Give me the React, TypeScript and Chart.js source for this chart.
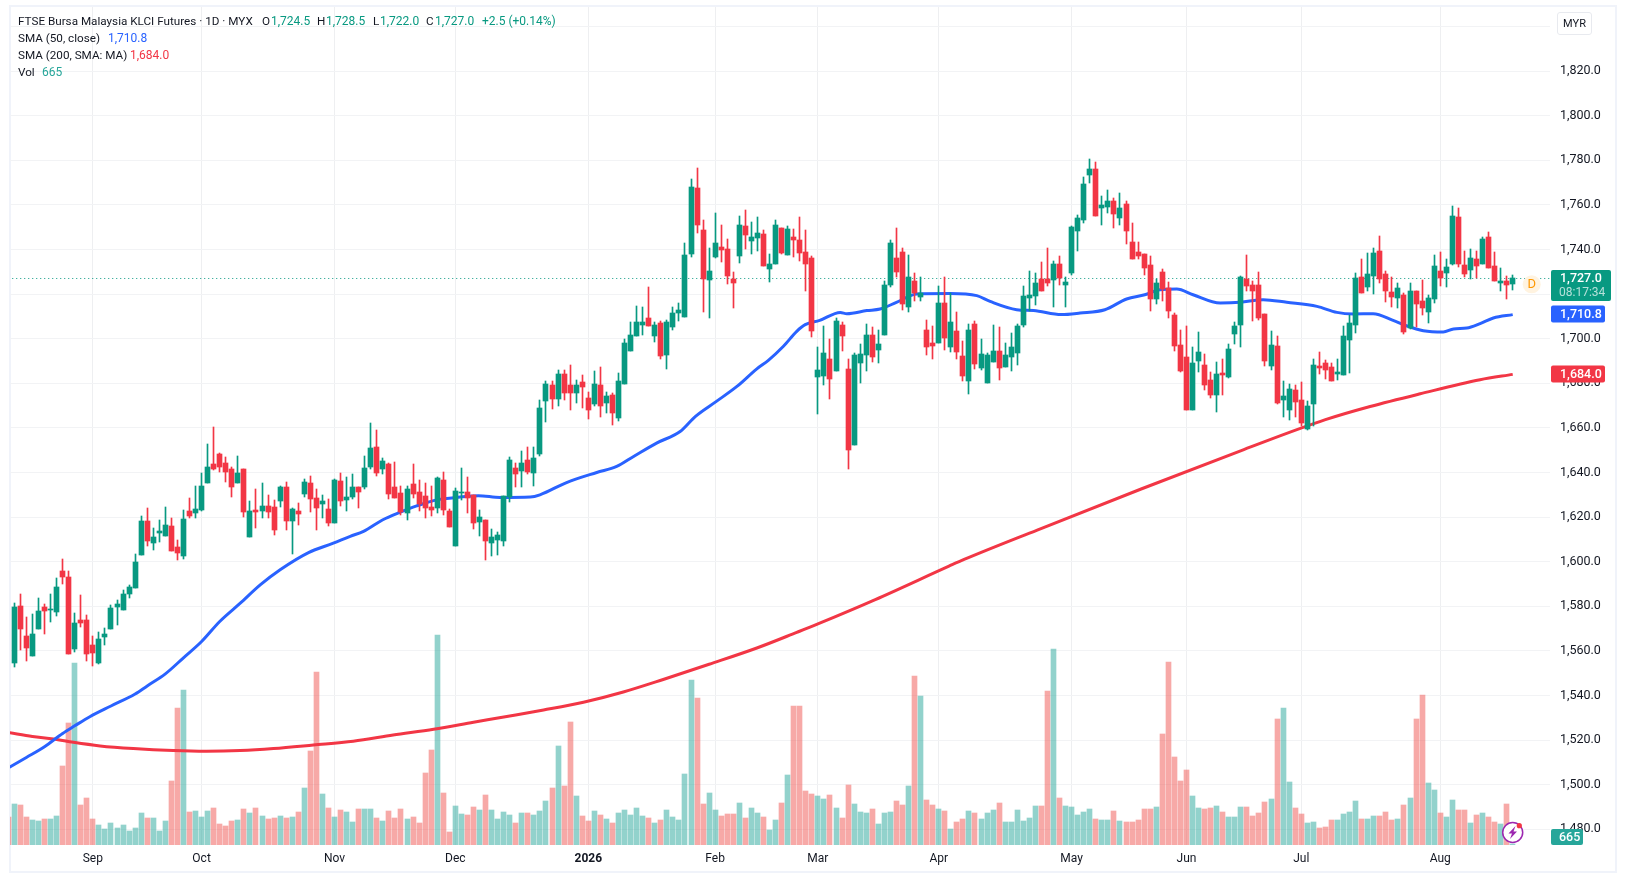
import React, { useEffect, useRef } from 'react';
import Chart from 'chart.js/auto';

// first slot is the bar cut off by the left edge: only its volume shows
const opens = [null,
  1554.7, 1580.3, 1566.8, 1557.8, 1570, 1579.8, 1578.5, 1577.6, 1596, 1593.3,
  1561, 1574, 1574, 1562.8, 1554.7, 1566.3, 1570, 1579.8, 1578.5, 1585.6,
  1588.3, 1603.2, 1618.4, 1608.5, 1613, 1611.7, 1616.2, 1606.7, 1602.7, 1622.9,
  1622, 1623.3, 1635.5, 1644, 1648.5, 1644.4, 1641.7, 1635.5, 1641.7, 1611.2,
  1623.3, 1622.9, 1625.1, 1624.7, 1627.4, 1633.7, 1618.4, 1622.9, 1630.5, 1635.5,
  1628.7, 1626, 1623.8, 1617.5, 1636.4, 1627.8, 1629, 1633.5, 1633.5, 1642.5,
  1651.4, 1641.6, 1643.8, 1633.5, 1630.8, 1621.8, 1634.8, 1631.2, 1629.4, 1624.5,
  1624, 1636.6, 1622.7, 1607, 1630.8, 1631.2, 1629.9, 1617.8, 1618.7, 1608.3,
  1609.7, 1609.2, 1628.8, 1642, 1640.7, 1645.6, 1639.8, 1648.3, 1672.1, 1679.3,
  1673, 1684.2, 1679.3, 1675.7, 1680.6, 1673.4, 1670.7, 1679.3, 1671.2, 1674.8,
  1664.4, 1679.7, 1694.6, 1701, 1706.1, 1709.2, 1701.2, 1707, 1692.6, 1705.2,
  1711.5, 1709.7, 1738, 1767.6, 1748.7, 1726.3, 1736.6, 1741.1, 1740.2, 1726.7,
  1737.1, 1750.5, 1743.8, 1745.1, 1746.9, 1731.2, 1733.5, 1749.6, 1737.5, 1745.6,
  1744.2, 1738.9, 1736.2, 1682.8, 1683.2, 1690.8, 1685.5, 1706.1, 1686.3, 1652.2,
  1689, 1692.6, 1701.6, 1694.9, 1701.6, 1724, 1736.2, 1738.9, 1714.2, 1725.8,
  1718.7, 1703.9, 1698, 1698, 1716, 1696.2, 1703.4, 1692.2, 1681, 1706.5,
  1686.8, 1680.1, 1689.7, 1694.6, 1687.4, 1691.9, 1693.7, 1706.2, 1718.3, 1719.2,
  1726.9, 1726.9, 1726.4, 1733.6, 1724.2, 1729.5, 1748.3, 1753.3, 1773.4, 1776.1,
  1758.6, 1759.1, 1761.8, 1754.2, 1760.4, 1743.4, 1739, 1738, 1733.1, 1717.9,
  1730, 1722.8, 1710.7, 1697.3, 1691.9, 1668.2, 1690.1, 1688.3, 1681.6, 1674.9,
  1684.7, 1683, 1702.2, 1706.2, 1726.9, 1724.2, 1724.2, 1711.2, 1687.8, 1696.8,
  1672.5, 1668, 1677, 1672.5, 1659.5, 1670.7, 1687.8, 1689.1, 1687.3, 1684.2,
  1683.8, 1699.5, 1706.2, 1727.8, 1723.3, 1728.2, 1739.5, 1729.1, 1721, 1718.4,
  1719.7, 1704.9, 1721.5, 1717, 1712.1, 1717.9, 1730.5, 1729.6, 1733.6, 1754.8,
  1733.2, 1730.9, 1735.9, 1733.7, 1745.4, 1732.8, 1724.8, 1725.7, 1724.5,
];
const highs = [null,
  1581.5, 1585.6, 1575.3, 1576.7, 1583.9, 1581.2, 1585.6, 1592.8, 1601.4, 1596,
  1577.1, 1585.2, 1576.2, 1566.8, 1568.6, 1570.4, 1580.7, 1583, 1587.4, 1589.7,
  1603.6, 1620.7, 1624.2, 1615.3, 1618.9, 1624.7, 1619.8, 1609.9, 1623.3, 1628.7,
  1634.1, 1640, 1653, 1660.6, 1648.9, 1647.1, 1642.6, 1647.6, 1641.7, 1627.4,
  1632.8, 1635.5, 1630.1, 1627.8, 1634.1, 1635.9, 1624.2, 1626.5, 1637.3, 1638.6,
  1632.8, 1630.1, 1628.3, 1637.3, 1640, 1638.2, 1639.3, 1633.5, 1647.4, 1662.2,
  1659, 1646.5, 1644.2, 1644.7, 1633.9, 1633.9, 1643.8, 1636.6, 1635.3, 1633.9,
  1638, 1640.2, 1623.6, 1633, 1642, 1638, 1629.9, 1623.2, 1618.7, 1614.6,
  1613.3, 1629.4, 1646.9, 1644.2, 1649.6, 1651.4, 1651.4, 1672.5, 1681, 1681,
  1686, 1686, 1688.2, 1681.5, 1683.7, 1676.1, 1685.5, 1687.3, 1676.1, 1675.7,
  1684.6, 1699.7, 1707.7, 1714.8, 1714.2, 1723.2, 1707.4, 1707.9, 1708.3, 1714.2,
  1716, 1742.9, 1771.6, 1776.6, 1753.2, 1740.7, 1756.4, 1751, 1744.7, 1729.9,
  1755, 1757.7, 1752.3, 1754.6, 1748.7, 1738, 1753.2, 1749.6, 1750.5, 1749.1,
  1754.6, 1748.7, 1737.1, 1696.2, 1705.6, 1699.8, 1709.2, 1707.4, 1690.8, 1693.5,
  1697.6, 1706.5, 1705.2, 1703.9, 1725.8, 1744.2, 1749.6, 1740.7, 1737.5, 1729.4,
  1727.6, 1708.3, 1705.6, 1723.6, 1727.6, 1720.5, 1711.9, 1698.9, 1706.5, 1707.9,
  1699.8, 1693.5, 1706.2, 1705.3, 1698.2, 1702.7, 1706.7, 1723.7, 1730.4, 1729.5,
  1734.5, 1740.7, 1734.9, 1737.1, 1727.7, 1750.6, 1755.5, 1772.5, 1780.6, 1779.3,
  1764, 1766.7, 1763.1, 1765.4, 1761.8, 1751.9, 1743.4, 1738, 1737.1, 1726.9,
  1731.3, 1725.5, 1711.6, 1704, 1705.8, 1696.4, 1703.1, 1693.3, 1685.2, 1689.7,
  1691, 1697.7, 1707.6, 1728.2, 1737.6, 1726, 1730, 1711.2, 1703.5, 1701.3,
  1681, 1679.7, 1679.3, 1680.5, 1672, 1691, 1694.1, 1690.5, 1689.1, 1691,
  1705.8, 1710.7, 1729.6, 1735.9, 1738.6, 1740.8, 1746.2, 1730.5, 1727.8, 1725.1,
  1720.6, 1725.1, 1721.5, 1726.4, 1719.7, 1737.7, 1739, 1735.9, 1759.3, 1758.8,
  1739.5, 1740.4, 1739.5, 1745.8, 1748, 1739.1, 1731.9, 1728.3, 1728.5,
];
const lows = [null,
  1552.6, 1560.5, 1555.3, 1557.8, 1570, 1567.7, 1573, 1575.8, 1590.1, 1558.7,
  1559.6, 1570.8, 1555.6, 1553.3, 1554.2, 1562.8, 1570, 1571.7, 1578.5, 1583.9,
  1588.3, 1603.2, 1607.2, 1605.4, 1609, 1611.7, 1604.9, 1600.9, 1601.4, 1619.8,
  1619.8, 1622.9, 1635.5, 1641.3, 1640.4, 1635.9, 1629.2, 1635.5, 1620.2, 1611.2,
  1615.3, 1619.8, 1619.8, 1612.1, 1624.7, 1614.4, 1603.6, 1616.6, 1629.2, 1622.4,
  1614.4, 1619.8, 1616.2, 1617.5, 1625.1, 1622.9, 1628.1, 1624, 1632.6, 1641.6,
  1638.4, 1639.3, 1628.1, 1628.5, 1620.9, 1618.7, 1628.5, 1622.7, 1619.6, 1620.5,
  1621.8, 1620.9, 1615.5, 1607, 1627.6, 1621.8, 1614.6, 1611.5, 1600.7, 1602.5,
  1603, 1607, 1626.7, 1633.5, 1633.5, 1639.3, 1633.9, 1647.4, 1662.6, 1668.5,
  1669.8, 1672.5, 1668, 1671.2, 1668.9, 1664, 1669.8, 1664.9, 1666.7, 1661.3,
  1663.1, 1679.7, 1694.6, 1701, 1701.6, 1705.6, 1698.5, 1690.8, 1686.3, 1703.9,
  1707.9, 1709.7, 1736.6, 1747.4, 1711.9, 1709.2, 1736.2, 1734.4, 1724.5, 1713.7,
  1733.9, 1740.2, 1738, 1739.3, 1732.6, 1725.4, 1733.5, 1738, 1737.5, 1736.6,
  1734.8, 1721.4, 1700.7, 1666.2, 1679.2, 1672.9, 1685.5, 1694.4, 1641.5, 1652.2,
  1680.1, 1685.5, 1689.5, 1689, 1701.6, 1723.2, 1727.6, 1712.8, 1711.9, 1716.9,
  1716.9, 1692.6, 1690.8, 1698, 1694.9, 1694, 1690.8, 1681, 1675.1, 1686.3,
  1685.9, 1680.1, 1689.7, 1681.6, 1687.4, 1685.6, 1688.3, 1705.4, 1712.5, 1715.2,
  1721.5, 1723.7, 1714.3, 1724.2, 1714.3, 1728.6, 1739.4, 1751.9, 1769.8, 1755.1,
  1751, 1756.4, 1749.7, 1751, 1742.5, 1735.8, 1735.8, 1728.6, 1712.5, 1715.7,
  1717, 1709.4, 1694.6, 1685.2, 1668.2, 1668.2, 1685.2, 1677.1, 1673.5, 1667.3,
  1674.9, 1682.5, 1697.7, 1696.4, 1721.5, 1708, 1708.5, 1687.8, 1686, 1670.7,
  1664.9, 1663.7, 1664.9, 1660.8, 1659, 1661, 1684.2, 1682, 1681, 1681.5,
  1683.8, 1684.6, 1702.6, 1720.6, 1721.5, 1720.2, 1725.1, 1716.6, 1714.3, 1713.9,
  1702.2, 1704.4, 1705.3, 1710.7, 1707.1, 1716.1, 1723.7, 1723.3, 1733.2, 1732.3,
  1727.8, 1726.9, 1727.3, 1733.3, 1731.9, 1725.7, 1721.2, 1717.6, 1722,
];
const closes = [null,
  1579.8, 1570, 1561.4, 1567.7, 1578, 1578, 1579, 1588.8, 1593.3, 1558.7,
  1572.6, 1572.6, 1558.7, 1559.2, 1565.5, 1567.7, 1579.4, 1581.2, 1585.6, 1588.8,
  1600, 1618.4, 1609.4, 1611.2, 1613.9, 1616.6, 1604.9, 1604, 1619.3, 1620.7,
  1623.8, 1634.1, 1642.6, 1641.7, 1642.6, 1640.4, 1633.7, 1640, 1622.4, 1622.9,
  1622.4, 1625.1, 1622.4, 1614.4, 1633.7, 1618.4, 1623.8, 1621.6, 1635.9, 1628.3,
  1624.2, 1627.4, 1617.5, 1636.8, 1627.4, 1629.2, 1633.5, 1631.2, 1642, 1651,
  1639.8, 1645.1, 1630.3, 1628.5, 1622.3, 1632.6, 1630.3, 1625.8, 1624, 1623.2,
  1637.5, 1623.2, 1615.5, 1631.7, 1631.2, 1628.5, 1617.3, 1620, 1609.2, 1611,
  1611.9, 1629.4, 1645.6, 1639.3, 1644.2, 1640.2, 1646.5, 1668.9, 1679.7, 1673,
  1684.2, 1675.7, 1675.7, 1679.3, 1678.4, 1668, 1679.7, 1669.8, 1674.3, 1666.7,
  1681, 1697.9, 1701.5, 1707.3, 1707.4, 1705.6, 1706.1, 1692.2, 1707.4, 1711.5,
  1712.8, 1737.5, 1768, 1751, 1726.7, 1730.3, 1742.9, 1739.8, 1728.1, 1724.9,
  1751, 1746.5, 1745.6, 1747.4, 1732.6, 1733.5, 1751, 1738.4, 1749.2, 1744.2,
  1738.4, 1733.5, 1703.4, 1685.9, 1693.5, 1681.9, 1707.9, 1701.2, 1650, 1692.6,
  1693.1, 1701.6, 1691.7, 1697.6, 1724, 1742.9, 1729.9, 1715.5, 1727.6, 1720.5,
  1720.5, 1696.2, 1696.7, 1716, 1700.3, 1707.4, 1694, 1683.2, 1703.9, 1688.6,
  1693.1, 1692.6, 1694.6, 1687, 1692.8, 1696.4, 1705.8, 1719.2, 1719.7, 1725,
  1721.5, 1725, 1733.6, 1727.3, 1725.5, 1750.1, 1754.2, 1769.4, 1776.1, 1755.1,
  1760, 1761.8, 1756, 1758.6, 1748.3, 1735.8, 1737.1, 1731.8, 1717.9, 1725,
  1722.4, 1712.5, 1696.8, 1685.6, 1668.2, 1689.2, 1694.2, 1679.4, 1674.9, 1684.3,
  1683.9, 1695.5, 1705.8, 1727.7, 1723.7, 1721.5, 1709.4, 1690, 1697.2, 1671.2,
  1674.3, 1677.5, 1671.6, 1662.3, 1670, 1688.3, 1686.9, 1686, 1681, 1685.1,
  1701.3, 1707.1, 1727.3, 1720.6, 1729.1, 1738.6, 1726.9, 1721.5, 1718.8, 1722.8,
  1703.1, 1721.5, 1715.7, 1713.9, 1718.4, 1732.7, 1727.3, 1732.3, 1755.2, 1733.6,
  1729.1, 1736.3, 1732.7, 1744.5, 1731.9, 1725.7, 1726.1, 1724.3, 1727,
];
const volumes = [14200,
  20500, 20000, 14000, 12500, 12000, 13000, 13000, 14500, 39500, 61000,
  91000, 20000, 23500, 13000, 10000, 8000, 11000, 8500, 10000, 7000,
  8500, 16000, 13500, 13500, 7000, 12000, 32000, 68500, 77500, 16500,
  17000, 14000, 17000, 18500, 10500, 9500, 12000, 12500, 18000, 16000,
  18500, 14500, 13000, 13500, 14500, 13500, 14000, 16500, 28500, 47000,
  86500, 25500, 18500, 14000, 17500, 16500, 11500, 18000, 18000, 18000,
  13500, 12000, 17000, 13500, 18000, 13000, 14000, 11000, 36000, 47500,
  105000, 26000, 6500, 19500, 15500, 15000, 19000, 17500, 25000, 17500,
  13000, 16500, 15000, 11000, 16000, 16000, 15000, 17000, 22000, 28500,
  49500, 29500, 61500, 24500, 14500, 12000, 17000, 15000, 13000, 11000,
  16000, 17500, 15000, 18500, 14500, 13500, 11000, 12500, 17500, 14000,
  12500, 35500, 82500, 73500, 20500, 26000, 17500, 14500, 15500, 15500,
  21000, 13500, 18500, 16000, 14000, 7500, 12500, 21000, 35000, 69500,
  69500, 27000, 25500, 24500, 23000, 25000, 18500, 13500, 30000, 20500,
  16500, 16000, 18000, 10500, 16000, 16500, 22000, 20000, 29500, 84500,
  74500, 22500, 20000, 18000, 17000, 8000, 11500, 13000, 17000, 16000,
  13000, 16000, 17500, 21000, 11500, 11500, 17500, 12000, 13500, 19500,
  19500, 77000, 98000, 23500, 19500, 19000, 15000, 16500, 18000, 13000,
  12500, 12500, 17000, 12000, 11500, 11500, 12500, 18000, 18000, 19000,
  55500, 91500, 44000, 32000, 37500, 24500, 18500, 18000, 18500, 19500,
  16500, 14000, 14000, 19000, 19000, 14500, 16000, 21500, 23000, 63000,
  68500, 31500, 18500, 15500, 11000, 11500, 8500, 9000, 12500, 12500,
  15500, 16500, 22000, 13000, 13000, 14500, 14500, 16500, 12500, 13000,
  20000, 23500, 63000, 75000, 31000, 27500, 16000, 14000, 22500, 17500,
  17500, 11000, 15000, 16000, 14000, 11500, 10500, 20500, 665,
];

const sma50Slots = [0.2, 3, 6, 9, 11, 13.5, 17, 21, 23, 26, 29, 32, 35, 38.4, 41.7, 45, 49.7, 53.8, 56.6, 58.8, 62, 64.8, 67.6, 71, 73, 77.8, 81.4, 86.4, 88, 92.4, 97.4, 100.7, 103.5, 107.3, 111.2, 113.7, 117.2, 120.6, 123.9, 125.8, 128.3, 130.5, 131.9, 134.3, 137.7, 138.8, 142.1, 144.3, 147, 150.4, 155.9, 160.3, 162.5, 166.9, 169.7, 174.3, 177.4, 181.5, 185.1, 188.1, 190.6, 193.4, 196.1, 200.6, 203.9, 207.7, 211.6, 216.6, 219.9, 222.6, 225.9, 229.2, 231.4, 234.2, 237.5, 239.2, 241.4, 243.6, 245.8, 249];
const sma50Values = [1507.8, 1512.2, 1517, 1523, 1526.4, 1530.5, 1535.3, 1540.7, 1544.3, 1549.7, 1556.9, 1564.2, 1573.2, 1581.4, 1589.6, 1596.4, 1604.1, 1608.3, 1611.4, 1613.6, 1618.8, 1622.1, 1625, 1627.8, 1628.5, 1629.6, 1628.8, 1629, 1630, 1635.5, 1640, 1642.7, 1647.2, 1653.2, 1658.4, 1665.1, 1671.9, 1678.6, 1686.5, 1690.3, 1696.6, 1703.3, 1706.3, 1708.2, 1711.8, 1711.2, 1712.6, 1713.3, 1716.3, 1720.1, 1720.3, 1719.3, 1716.7, 1713, 1712.6, 1710.8, 1711.5, 1713, 1717.8, 1719.7, 1722, 1722.3, 1719.7, 1716, 1716.3, 1717.5, 1716.3, 1714.5, 1711.8, 1711.1, 1711.2, 1708.2, 1705.8, 1703.6, 1703, 1704.4, 1704.8, 1706.8, 1709.3, 1710.8];
const sma200Slots = [0.2, 4, 7.5, 10.8, 15.2, 20.7, 27.3, 32.8, 38.4, 43.9, 50.5, 57.1, 63.7, 70.4, 77, 83, 88.6, 95.2, 101.8, 108.4, 116, 123.9, 130.5, 134, 143.5, 155.7, 158.2, 170.3, 187.5, 204.5, 218, 225.4, 233.7, 243.6, 249];
const sma200Values = [1523.3, 1521.6, 1520.5, 1519, 1517.4, 1516.2, 1515.3, 1515, 1515.3, 1516.2, 1517.8, 1519.5, 1522.3, 1524.9, 1528, 1530.8, 1533.5, 1537, 1541.6, 1547.2, 1554, 1561.3, 1568.3, 1572.1, 1583, 1598, 1601, 1614.2, 1632.6, 1650.3, 1663.7, 1669.6, 1675.3, 1681.6, 1684];

const monthSlots = [14, 32, 54, 74, 96, 117, 134, 154, 176, 195, 214, 237];
const monthLabels = ['Sep', 'Oct', 'Nov', 'Dec', '2026', 'Feb', 'Mar', 'Apr', 'May', 'Jun', 'Jul', 'Aug'];
const priceTicks = [1480, 1500, 1520, 1540, 1560, 1580, 1600, 1620, 1640, 1660, 1680, 1700, 1720, 1740, 1760, 1780, 1800, 1820, 1840];

const lastClose = 1727.0;
const lastSma50 = 1710.8;
const lastSma200 = 1684.0;

const UP = '#089981';
const DOWN = '#f23645';
const BLUE = '#2962ff';
const TEAL = '#26a69a';
const INK = '#131722';
const FONT = 'Roboto';

const legendRows = [
  { top: 14, left: 18, color: INK, text: 'FTSE Bursa Malaysia KLCI Futures · 1D · MYX' },
  { top: 14, left: 262, color: INK, text: 'O' },
  { top: 14, left: 271, color: UP, text: '1,724.5' },
  { top: 14, left: 317, color: INK, text: 'H' },
  { top: 14, left: 326, color: UP, text: '1,728.5' },
  { top: 14, left: 373, color: INK, text: 'L' },
  { top: 14, left: 380, color: UP, text: '1,722.0' },
  { top: 14, left: 426, color: INK, text: 'C' },
  { top: 14, left: 435, color: UP, text: '1,727.0' },
  { top: 14, left: 482, color: UP, text: '+2.5 (+0.14%)' },
  { top: 31, left: 18, color: INK, text: 'SMA (50, close)' },
  { top: 31, left: 108, color: BLUE, text: '1,710.8' },
  { top: 48, left: 18, color: INK, text: 'SMA (200, SMA: MA)' },
  { top: 48, left: 130, color: DOWN, text: '1,684.0' },
  { top: 65, left: 18, color: INK, text: 'Vol' },
  { top: 65, left: 42, color: TEAL, text: '665' },
];

const isUp = (i: number) => closes[i] !== null && closes[i] >= opens[i];

function tag(ctx: any, x: number, y: number, w: number, h: number, color: string) {
  ctx.fillStyle = color;
  ctx.beginPath();
  ctx.roundRect(x, y, w, h, 2);
  ctx.fill();
}

// pixel-snap bars the way the original does, so wicks stay 1px
const snapBars = {
  id: 'snapBars',
  beforeDatasetsDraw(chart: any) {
    chart.getSortedVisibleDatasetMetas().forEach((meta: any) => {
      if (meta.type !== 'bar') return;
      meta.data.forEach((el: any) => {
        el.x = Math.floor(el.x) + 0.5;
        el.y = Math.round(el.y);
        el.base = Math.round(el.base);
        if (el.y === el.base) el.base = el.y + 1;
      });
    });
  },
};

const frame = {
  id: 'frame',
  beforeDraw(chart: any) {
    const { ctx } = chart;
    ctx.save();
    ctx.strokeStyle = '#f0f3fa';
    ctx.lineWidth = 2;
    ctx.strokeRect(10, 6, 1606, 866);
    ctx.restore();
  },
  afterDraw(chart: any) {
    const { ctx, scales } = chart;
    const yy = (v: number) => scales.y.getPixelForValue(v);
    ctx.save();
    ctx.textBaseline = 'middle';
    ctx.textAlign = 'left';

    const y0 = yy(lastClose);
    tag(ctx, 1551, y0 - 8.5, 60, 31, UP);
    ctx.fillStyle = '#ffffff';
    ctx.font = `500 12.5px ${FONT}`;
    ctx.fillText('1,727.0', 1560, y0 + 0.5);
    ctx.fillStyle = 'rgba(255,255,255,0.7)';
    ctx.font = `12px ${FONT}`;
    ctx.fillText('08:17:34', 1559, y0 + 15);

    tag(ctx, 1551, yy(lastSma50) - 9, 54, 17, BLUE);
    ctx.fillStyle = '#ffffff';
    ctx.font = `500 12.5px ${FONT}`;
    ctx.fillText('1,710.8', 1560, yy(lastSma50));

    tag(ctx, 1551, yy(lastSma200) - 9, 54, 17, DOWN);
    ctx.fillStyle = '#ffffff';
    ctx.fillText('1,684.0', 1560, yy(lastSma200));

    tag(ctx, 1551, 829, 32, 16, TEAL);
    ctx.fillStyle = '#ffffff';
    ctx.fillText('665', 1559, 837.5);

    // "D" dividend marker
    ctx.fillStyle = '#fff3e0';
    ctx.beginPath();
    ctx.arc(1531.7, 284.3, 9, 0, Math.PI * 2);
    ctx.fill();
    ctx.fillStyle = '#ff9800';
    ctx.font = `13px ${FONT}`;
    ctx.textAlign = 'center';
    ctx.fillText('D', 1531.7, 285);

    // bolt badge
    ctx.fillStyle = '#ffffff';
    ctx.strokeStyle = '#9c27b0';
    ctx.lineWidth = 1.5;
    ctx.beginPath();
    ctx.arc(1512.7, 832.5, 10, 0, Math.PI * 2);
    ctx.fill();
    ctx.stroke();
    ctx.fillStyle = '#9c27b0';
    ctx.beginPath();
    ctx.moveTo(1515.5, 826);
    ctx.lineTo(1508.5, 833.5);
    ctx.lineTo(1512, 833.5);
    ctx.lineTo(1510, 839);
    ctx.lineTo(1517, 831.5);
    ctx.lineTo(1513.5, 831.5);
    ctx.closePath();
    ctx.fill();
    ctx.fillStyle = DOWN;
    ctx.beginPath();
    ctx.arc(1519.3, 825.7, 2.6, 0, Math.PI * 2);
    ctx.fill();
    ctx.restore();
  },
};

export default function App() {
  const canvasRef = useRef<HTMLCanvasElement>(null);

  useEffect(() => {
    if (!canvasRef.current) return;
    const slots = opens.map((_, i) => i);
    const candles = slots.filter((i) => closes[i] !== null);
    const candleColors = candles.map((i) => (isUp(i) ? UP : DOWN));

    const chart = new Chart(canvasRef.current, {
      type: 'bar',
      data: {
        datasets: [
          {
            type: 'bar',
            label: 'Vol',
            data: slots.map((i) => ({ x: i, y: volumes[i] })),
            yAxisID: 'vol',
            grouped: false,
            barThickness: 5,
            backgroundColor: slots.map((i) => (isUp(i) ? 'rgba(38,166,154,0.5)' : 'rgba(239,83,80,0.5)')),
            order: 5,
          },
          {
            type: 'line',
            label: 'Last',
            data: [{ x: 0, y: lastClose }, { x: 256, y: lastClose }],
            borderColor: UP,
            borderWidth: 1,
            borderDash: [1, 3],
            pointRadius: 0,
            order: 4,
          },
          {
            type: 'line',
            label: 'SMA 200',
            data: sma200Slots.map((x, i) => ({ x, y: sma200Values[i] })),
            borderColor: DOWN,
            borderWidth: 3,
            pointRadius: 0,
            cubicInterpolationMode: 'monotone',
            order: 3,
          },
          {
            type: 'line',
            label: 'SMA 50',
            data: sma50Slots.map((x, i) => ({ x, y: sma50Values[i] })),
            borderColor: BLUE,
            borderWidth: 3,
            pointRadius: 0,
            cubicInterpolationMode: 'monotone',
            order: 2,
          },
          {
            type: 'bar',
            label: 'Wick',
            data: candles.map((i) => ({ x: i, y: [lows[i], highs[i]] })),
            grouped: false,
            barThickness: 1,
            backgroundColor: candleColors,
            order: 1,
          },
          {
            type: 'bar',
            label: 'Body',
            data: candles.map((i) => ({ x: i, y: [opens[i], closes[i]] })),
            grouped: false,
            barThickness: 5,
            backgroundColor: candleColors,
            order: 0,
          },
        ],
      },
      options: {
        animation: false,
        responsive: false,
        events: [],
        layout: { padding: { left: 10, top: 7, right: 0, bottom: 0 } },
        plugins: { legend: { display: false }, tooltip: { enabled: false } },
        scales: {
          x: {
            type: 'linear',
            offset: false,
            min: 0.29,
            max: 255.17,
            border: { display: false },
            grid: { offset: false, color: '#eeeff1', drawTicks: false },
            afterBuildTicks: (scale: any) => {
              scale.ticks = monthSlots.map((value) => ({ value }));
            },
            afterFit: (scale: any) => {
              scale.height = 28;
              scale.paddingLeft = 0;
              scale.paddingRight = 0;
            },
            ticks: {
              autoSkip: false,
              maxRotation: 0,
              padding: 7,
              color: INK,
              font: (ctx: any) => ({ family: FONT, size: 12, weight: ctx.tick && ctx.tick.value === 96 ? 'bold' : 'normal' }),
              callback: (v: any) => monthLabels[monthSlots.indexOf(v)],
            },
          },
          y: {
            position: 'right',
            min: 1472.96,
            max: 1848.75,
            border: { display: false },
            grid: { color: '#f2f3f5', drawTicks: false },
            afterBuildTicks: (scale: any) => {
              scale.ticks = priceTicks.map((value) => ({ value }));
            },
            afterFit: (scale: any) => {
              scale.width = 76;
              scale.paddingTop = 0;
              scale.paddingBottom = 0;
            },
            ticks: {
              autoSkip: false,
              crossAlign: 'near',
              padding: 10,
              color: INK,
              font: { family: FONT, size: 12.5 },
              callback: (v: any) => (v > 1820 ? '' : `${Math.floor(v / 1000)},${String(v % 1000).padStart(3, '0')}.0`),
            },
          },
          vol: {
            display: false,
            min: 0,
            max: 419000,
          },
        },
      },
      plugins: [snapBars, frame],
    } as any);

    return () => {
      chart.destroy();
    };
  }, []);

  return (
    <div style={{ position: 'absolute', left: 0, top: 0, width: 1626, height: 873, background: '#fff', overflow: 'hidden', fontFamily: FONT }}>
      <canvas ref={canvasRef} width={1626} height={873} style={{ display: 'block' }} />
      {legendRows.map((r, i) => (
        <span key={i} style={{ position: 'absolute', left: r.left, top: r.top, fontSize: r.color === INK ? 11.7 : 12, lineHeight: '14px', color: r.color, whiteSpace: 'nowrap' }}>
          {r.text}
        </span>
      ))}
      <div style={{ position: 'absolute', left: 1557, top: 12, width: 35, height: 23, boxSizing: 'border-box', border: '1px solid #e8eaef', borderRadius: 3, fontSize: 11, lineHeight: '21px', textAlign: 'center', color: INK }}>
        MYR
      </div>
    </div>
  );
}
